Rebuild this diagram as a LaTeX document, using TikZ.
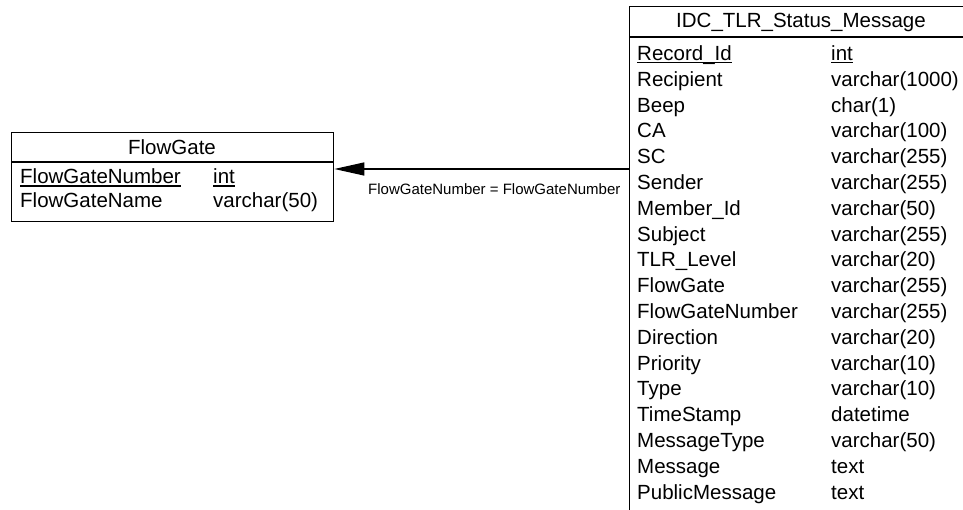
\documentclass[tikz,border=0pt]{standalone}
\usepackage{fontspec}
\setmainfont{Liberation Sans}
\usetikzlibrary{arrows.meta}
\newcommand{\cle}[1]{\setbox0\hbox{#1}\rlap{\rule[-2.8pt]{\wd0}{1.3pt}}\box0}
\tikzset{
  champ/.style={anchor=base west, inner sep=0pt, font=\fontsize{20.5}{24}\selectfont},
  titre/.style={anchor=base, inner sep=0pt, font=\fontsize{20.5}{24}\selectfont},
  boite/.style={draw, rectangle, line width=1.3pt, inner sep=0pt, anchor=north west},
  lien/.style={line width=1.3pt, -{Triangle[length=30pt,width=13pt]}},
}

\begin{document}
\begin{tikzpicture}[x=1pt,y=-1pt]
\useasboundingbox (0,0) rectangle (963,510);
\clip (0,0) rectangle (963,510);
  % Table FlowGate
\node[boite, minimum width=322pt, minimum height=89pt] (flowgate) at (11,132) {};
\draw[line width=1.3pt] (flowgate.west |- 0,162) -- (flowgate.east |- 0,162);
\node[titre] (fghead) at (172,155) {FlowGate};
\node[champ] (fgc1) at (20,184) {\cle{FlowGateNumber}};
\node[champ] (fgt1) at (213,184) {\cle{int}};
\node[champ] (fgc2) at (20,208) {FlowGateName};
\node[champ] (fgt2) at (213,208) {varchar(50)};
  % Table IDC_TLR_Status_Message
\node[boite, minimum width=345pt, minimum height=524pt] (idc) at (629,6) {};
\draw[line width=1.3pt] (idc.west |- 0,37) -- (idc.east |- 0,37);
\node[titre] (idchead) at (801,28) {IDC\_TLR\_Status\_Message};
\foreach \col/\typ [count=\i from 0] in {
    {\cle{Record\_Id}}/{\cle{int}}, Recipient/varchar(1000), Beep/char(1),
    CA/varchar(100), SC/varchar(255), Sender/varchar(255),
    Member\_Id/varchar(50), Subject/varchar(255), TLR\_Level/varchar(20),
    FlowGate/varchar(255), FlowGateNumber/varchar(255), Direction/varchar(20),
    Priority/varchar(10), Type/varchar(10), TimeStamp/datetime,
    MessageType/varchar(50), Message/text, PublicMessage/text}
{
  \node[champ] (c\i) at (637,{60.5+25.8*\i}) {\col};
  \node[champ] (t\i) at (831,{60.5+25.8*\i}) {\typ};
}
  % Relation
\coordinate (depart) at (idc.west |- 0,169);
\draw[lien] (depart) -- (flowgate.east |- depart);
\node[anchor=base west, inner sep=0pt, font=\fontsize{15}{18}\selectfont] (cond) at (368,195) {FlowGateNumber = FlowGateNumber};
\end{tikzpicture}
\end{document}
